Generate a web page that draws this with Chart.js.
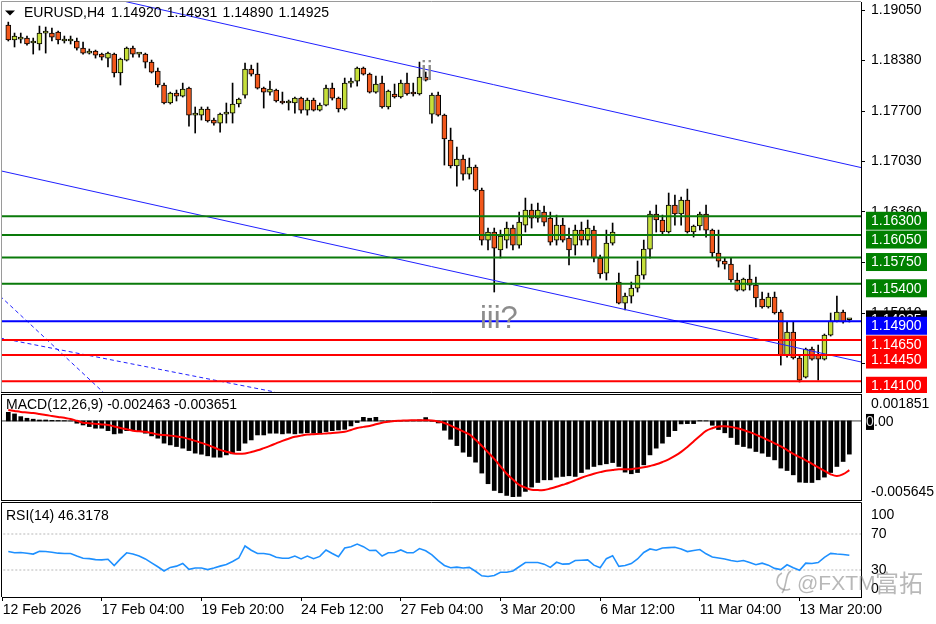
<!DOCTYPE html>
<html>
<head>
<meta charset="utf-8">
<title>EURUSD H4</title>
<script src="https://cdn.jsdelivr.net/npm/chart.js@4.4.1/dist/chart.umd.min.js"></script>
<style>
  html, body { margin:0; padding:0; background:#ffffff; }
  body { width:936px; height:624px; position:relative; overflow:hidden; }
  canvas { position:absolute; left:0; }
</style>
</head>
<body>
<canvas id="mainChart" width="936" height="393" style="top:0px"></canvas>
<canvas id="macdChart" width="936" height="109" style="top:393px"></canvas>
<canvas id="rsiChart" width="936" height="123" style="top:501px"></canvas>
<script>
// ---------------- DATA ----------------
const symbolText = 'EURUSD,H4';
const headerValues = ['1.14920', '1.14931', '1.14890', '1.14925'];

const opens = [
1.18849,1.18650,1.18663,1.18676,1.18610,1.18597,1.18743,1.18743,1.18756,1.18637,
1.18637,1.18637,1.18543,1.18476,1.18503,1.18463,1.18409,1.18463,1.18210,1.18383,
1.18543,1.18463,1.18463,1.18356,1.18237,1.18050,1.17810,1.17943,1.17903,1.18009,
1.17649,1.17649,1.17730,1.17583,1.17543,1.17663,1.17676,1.17797,1.17916,1.18263,
1.18196,1.18009,1.17956,1.17983,1.17837,1.17810,1.17810,1.17876,1.17716,1.17850,
1.17716,1.17783,1.18009,1.17876,1.17730,1.18076,1.18103,1.18277,1.18196,1.17956,
1.18076,1.17757,1.17930,1.17890,1.18076,1.17956,1.17930,1.18157,1.17663,1.17916,
1.17649,1.17316,1.16970,1.17063,1.16863,1.16956,1.16650,1.15983,1.16090,1.15850,
1.15983,1.16143,1.15916,1.16183,1.16383,1.16276,1.16356,1.16276,1.15983,1.16183,
1.16010,1.15916,1.16116,1.15983,1.16116,1.15743,1.15543,1.15943,1.15423,1.15143,
1.15236,1.15343,1.15516,1.15863,1.16330,1.16250,1.16090,1.16450,1.16330,1.16516,
1.16090,1.16170,1.16330,1.16116,1.15810,1.15703,1.15663,1.15450,1.15316,1.15463,
1.15383,1.15196,1.15090,1.15223,1.15023,1.14450,1.14756,1.14410,1.14156,1.14530,
1.14450,1.14396,1.14716,1.14903,1.15023,1.14920];
const highs = [
1.18889,1.18743,1.18743,1.18703,1.18676,1.18836,1.18823,1.18809,1.18770,1.18703,
1.18703,1.18676,1.18623,1.18530,1.18516,1.18476,1.18489,1.18476,1.18409,1.18557,
1.18570,1.18476,1.18476,1.18383,1.18277,1.18076,1.17956,1.17983,1.18076,1.18023,
1.17757,1.17757,1.17757,1.17610,1.17676,1.17810,1.18076,1.17876,1.18343,1.18316,
1.18343,1.18023,1.18103,1.17996,1.17956,1.17850,1.17890,1.17890,1.17876,1.17876,
1.17810,1.18050,1.18076,1.17890,1.18143,1.18143,1.18290,1.18290,1.18210,1.18170,
1.18170,1.17983,1.18063,1.18116,1.18210,1.18076,1.18356,1.18223,1.17943,1.17956,
1.17663,1.17476,1.17223,1.17116,1.17076,1.16983,1.16676,1.16143,1.16143,1.16116,
1.16223,1.16183,1.16356,1.16543,1.16463,1.16476,1.16436,1.16356,1.16316,1.16276,
1.16143,1.16183,1.16223,1.16250,1.16170,1.15783,1.16116,1.16210,1.15543,1.15276,
1.15423,1.15703,1.15983,1.16370,1.16450,1.16316,1.16610,1.16583,1.16556,1.16663,
1.16183,1.16356,1.16450,1.16130,1.16116,1.15743,1.15743,1.15543,1.15476,1.15650,
1.15490,1.15290,1.15276,1.15290,1.15050,1.14890,1.14890,1.14436,1.14543,1.14556,
1.14583,1.14730,1.15010,1.15236,1.15050,1.14931];
const lows = [
1.18637,1.18557,1.18610,1.18583,1.18463,1.18516,1.18476,1.18637,1.18597,1.18610,
1.18597,1.18516,1.18463,1.18463,1.18409,1.18383,1.18290,1.18157,1.18050,1.18370,
1.18423,1.18423,1.18277,1.18210,1.18023,1.17797,1.17797,1.17837,1.17890,1.17503,
1.17410,1.17583,1.17556,1.17516,1.17423,1.17543,1.17543,1.17757,1.17876,1.18170,
1.17996,1.17743,1.17916,1.17823,1.17797,1.17716,1.17676,1.17676,1.17649,1.17703,
1.17703,1.17770,1.17850,1.17690,1.17716,1.18023,1.18036,1.18183,1.17943,1.17943,
1.17743,1.17730,1.17876,1.17876,1.17916,1.17903,1.17916,1.18103,1.17543,1.17636,
1.16983,1.16943,1.16703,1.16783,1.16796,1.16636,1.15916,1.15850,1.15290,1.15743,
1.15876,1.15850,1.15876,1.16090,1.16143,1.16223,1.16170,1.15916,1.15916,1.15956,
1.15650,1.15783,1.15916,1.15916,1.15690,1.15476,1.15450,1.15916,1.15130,1.15050,
1.15143,1.15290,1.15463,1.15743,1.16090,1.16050,1.16076,1.16183,1.16183,1.16076,
1.16023,1.16116,1.16023,1.15756,1.15623,1.15596,1.15423,1.15303,1.15303,1.15316,
1.15090,1.15076,1.15076,1.14996,1.14316,1.14423,1.14396,1.14090,1.14143,1.14383,
1.14116,1.14383,1.14703,1.14890,1.14876,1.14890];
const closes = [
1.18650,1.18703,1.18663,1.18597,1.18610,1.18743,1.18743,1.18689,1.18650,1.18637,
1.18637,1.18543,1.18476,1.18503,1.18449,1.18423,1.18476,1.18210,1.18396,1.18543,
1.18463,1.18463,1.18356,1.18223,1.18050,1.17810,1.17943,1.17903,1.17996,1.17649,
1.17649,1.17730,1.17570,1.17543,1.17663,1.17690,1.17797,1.17863,1.18263,1.18196,
1.18009,1.17956,1.17996,1.17837,1.17810,1.17810,1.17876,1.17716,1.17850,1.17716,
1.17783,1.18009,1.17876,1.17730,1.18076,1.18103,1.18277,1.18196,1.17956,1.18063,
1.17757,1.17970,1.17890,1.18076,1.17930,1.17930,1.18157,1.18116,1.17916,1.17649,
1.17330,1.16970,1.17063,1.16863,1.16956,1.16650,1.15983,1.16090,1.15876,1.16036,
1.16143,1.15916,1.16223,1.16383,1.16276,1.16383,1.16223,1.15956,1.16183,1.15983,
1.15850,1.16116,1.15983,1.16143,1.15743,1.15530,1.15943,1.16090,1.15143,1.15236,
1.15343,1.15516,1.15863,1.16330,1.16250,1.16090,1.16450,1.16330,1.16516,1.16090,
1.16170,1.16330,1.16116,1.15810,1.15703,1.15663,1.15450,1.15316,1.15463,1.15383,
1.15210,1.15090,1.15223,1.15010,1.14450,1.14756,1.14410,1.14116,1.14530,1.14396,
1.14396,1.14716,1.14903,1.15023,1.14890,1.14925];

const priceTicks = [1.19050, 1.18380, 1.17700, 1.17030, 1.16360, 1.15690, 1.15010, 1.14340];
const greenLevels = [1.16300, 1.16050, 1.15750, 1.15400];
const blueLevels = [1.14900];
const redLevels = [1.14650, 1.14450, 1.14100];
const bidPrice = 1.14925;

const channelUpper = [[18.9, 1.19161], [136.9, 1.16949]];
const channelLower = [[-1.06, 1.16903], [136.9, 1.14357]];
const dashedLineA = [[-1.33, 1.15237], [15.2, 1.13957]];
const dashedLineB = [[-1.33, 1.14677], [42.8, 1.13957]];
const waveLabelText = ['ii', 'iii?'];
const waveLabelIndex = [66.2, 75.7];
const waveLabelPrice = [1.18116, 1.14810];

const macdLabel = 'MACD(12,26,9) -0.002463 -0.003651';
const macdHist = [
0.00064,0.00052,0.00032,0.0002,0.00013,0.00007,0.00007,0.00004,0.00003,0.00002,
0,-0.00017,-0.0003,-0.00042,-0.00054,-0.00054,-0.00072,-0.00096,-0.00091,-0.00072,
-0.00072,-0.00079,-0.00091,-0.00111,-0.00128,-0.00165,-0.00178,-0.0019,-0.00202,-0.0022,
-0.00239,-0.00247,-0.00259,-0.00269,-0.00269,-0.00252,-0.00244,-0.0022,-0.00165,-0.00141,
-0.00104,-0.00104,-0.00091,-0.00091,-0.00096,-0.00091,-0.00096,-0.00091,-0.00087,-0.00091,
-0.00087,-0.00079,-0.00072,-0.00067,-0.00062,-0.00037,-0.00012,0.00027,0.0002,0.00027,
0,-0.00002,-0.00002,0.00001,0.00002,0.00005,0.00008,0.00025,-0.00002,-0.00015,
-0.00069,-0.00136,-0.00183,-0.00232,-0.00264,-0.00306,-0.00387,-0.00466,-0.00516,-0.00533,
-0.00553,-0.00565,-0.0056,-0.00523,-0.00491,-0.00457,-0.00437,-0.00437,-0.00417,-0.00412,
-0.00407,-0.00412,-0.00383,-0.00358,-0.00338,-0.00326,-0.00318,-0.00309,-0.00338,-0.0038,
-0.00392,-0.00383,-0.00326,-0.00252,-0.00202,-0.00165,-0.00116,-0.00072,-0.00022,-0.0002,
-0.0002,0.00002,0.00001,-0.00032,-0.00064,-0.00088,-0.00123,-0.00175,-0.0019,-0.00202,
-0.00227,-0.00239,-0.00264,-0.00289,-0.0035,-0.00368,-0.004,-0.00454,-0.00457,-0.00457,
-0.00437,-0.00417,-0.00383,-0.00338,-0.00301,-0.002463];
const macdSignal = [
0.00081,0.00074,0.00067,0.00063,0.00059,0.00052,0.00044,0.00037,0.0003,0.00023,
0.00015,0.00001,-0.00013,-0.00017,-0.00021,-0.00026,-0.0003,-0.00041,-0.00052,-0.00062,
-0.00072,-0.00077,-0.00081,-0.0009,-0.001,-0.00105,-0.00109,-0.00115,-0.00122,-0.00134,
-0.00148,-0.00163,-0.00178,-0.00197,-0.00215,-0.00228,-0.00239,-0.00244,-0.00241,-0.00231,
-0.00218,-0.00202,-0.00185,-0.00166,-0.00148,-0.00132,-0.00118,-0.00109,-0.00101,-0.00098,
-0.00096,-0.00093,-0.0009,-0.00086,-0.00081,-0.00067,-0.00052,-0.00044,-0.00037,-0.00025,
-0.00013,-0.00006,0,0.00002,0.00004,0.00005,0.00006,0.00005,0.00004,-0.00004,
-0.00015,-0.00035,-0.00056,-0.00078,-0.001,-0.0014,-0.00185,-0.00233,-0.00281,-0.00337,
-0.00392,-0.00435,-0.00474,-0.00495,-0.00511,-0.00513,-0.00513,-0.00502,-0.00489,-0.00474,
-0.00459,-0.0044,-0.00422,-0.00406,-0.00392,-0.0038,-0.0037,-0.00364,-0.00359,-0.00358,
-0.00358,-0.00352,-0.00344,-0.00334,-0.00322,-0.00305,-0.00285,-0.0026,-0.0023,-0.00193,
-0.00152,-0.00112,-0.00074,-0.00054,-0.00041,-0.0004,-0.00044,-0.00054,-0.00067,-0.00083,
-0.00101,-0.00122,-0.00144,-0.00166,-0.00189,-0.00216,-0.00244,-0.00268,-0.00292,-0.00318,
-0.00344,-0.0037,-0.00396,-0.00409,-0.00395,-0.003651];
const macdAxisValues = [0.001851, 0.0, -0.005645];
const macdAxisLabels = ['0.001851', '0.00', '-0.005645'];

const rsiLabel = 'RSI(14) 46.3178';
const rsiValues = [
50.5,49.1,49.5,48.7,47.7,50.9,50.5,49.8,48.7,48.4,
48.4,45.5,43.0,42.6,41.5,41.2,41.9,35.0,42.3,49.1,
47.7,45.5,42.3,37.9,33.6,28.9,32.9,34.3,37.2,30.7,
32.2,32.2,30.4,32.2,34.3,36.1,39.4,43.3,56.7,52.0,
48.4,48.4,47.3,44.1,43.0,43.0,45.5,42.3,45.5,42.6,
45.1,52.3,48.4,44.8,54.5,55.9,58.8,55.9,51.6,52.0,
45.5,49.1,49.5,52.3,49.1,49.1,53.8,51.3,46.9,40.5,
35.0,32.5,33.2,32.2,32.9,28.6,23.5,22.8,23.9,27.5,
27.5,28.9,33.6,38.3,38.3,38.3,36.5,32.9,38.6,36.5,
36.8,40.5,40.8,41.2,35.4,32.5,42.6,45.9,34.0,35.0,
37.2,42.3,49.5,53.4,52.0,54.5,54.9,55.2,53.4,50.5,
51.6,52.7,48.0,44.4,43.3,42.3,40.5,39.4,40.5,38.3,
35.8,37.6,35.4,31.8,30.4,35.8,32.5,29.6,37.6,37.2,
38.3,44.1,48.4,47.7,47.3,46.3178];
const rsiLevels = [70, 30];
const rsiAxisValues = [100, 70, 30, 0];

const timeTickIndex = [-0.9, 15, 31, 47, 63, 79, 95, 111, 127];
const timeTickLabels = ['12 Feb 2026', '17 Feb 04:00', '19 Feb 20:00', '24 Feb 12:00', '27 Feb 04:00',
                        '3 Mar 20:00', '6 Mar 12:00', '11 Mar 04:00', '13 Mar 20:00'];
const watermarkLatin = '@FXTM';
const watermarkCJK = '富拓';

// ---------------- STYLE / SETUP ----------------
const FONT = '"Liberation Sans", Arial, sans-serif';
Chart.defaults.font.family = FONT;
Chart.defaults.font.size = 14;
Chart.defaults.color = '#000';
const X_MIN = -1.011, X_MAX = 136.87;
const idx = closes.map((_, i) => i);
const BULL = '#c6df3a', BEAR = '#f2581c';

function xHidden() {
  return { type: 'linear', min: X_MIN, max: X_MAX, display: false, offset: false };
}
function segment(pts) { return pts.map(p => ({ x: p[0], y: p[1] })); }
function hline(v, color, w, order, dash) {
  return { type: 'line', data: [{ x: X_MIN - 3, y: v }, { x: X_MAX + 3, y: v }],
           borderColor: color, borderWidth: w, pointRadius: 0, order: order,
           borderDash: dash || [] };
}
const baseOptions = {
  responsive: false, animation: false, devicePixelRatio: 1, events: [],
  plugins: { legend: { display: false }, tooltip: { enabled: false } }
};

// ---------- main panel decorations ----------
const mainDecor = {
  id: 'mainDecor',
  afterDraw(chart) {
    const { ctx, chartArea: a, scales: { x, y } } = chart;
    ctx.save();
    ctx.lineWidth = 1;
    ctx.strokeStyle = '#9a9a9a';
    ctx.beginPath(); ctx.moveTo(1.5, a.bottom); ctx.lineTo(1.5, 1.5); ctx.lineTo(a.right, 1.5); ctx.stroke();
    ctx.strokeStyle = '#000';
    ctx.beginPath(); ctx.moveTo(1, a.bottom + 0.5); ctx.lineTo(a.right + 1, a.bottom + 0.5); ctx.stroke();

    ctx.fillStyle = '#000';
    ctx.beginPath(); ctx.moveTo(5, 10.5); ctx.lineTo(15, 10.5); ctx.lineTo(10, 15.5); ctx.closePath(); ctx.fill();
    ctx.font = '14px ' + FONT; ctx.textBaseline = 'middle'; ctx.textAlign = 'left';
    ctx.fillText(symbolText, 24, 13.5);
    headerValues.forEach((t, k) => ctx.fillText(t, 111 + k * 55.8, 13.5));

    ctx.fillStyle = '#8c8c8c'; ctx.textBaseline = 'alphabetic';
    waveLabelText.forEach((t, k) => {
      ctx.font = (t.length > 2 ? '31px ' : '27px ') + FONT;
      ctx.fillText(t, x.getPixelForValue(waveLabelIndex[k]), y.getPixelForValue(waveLabelPrice[k]));
    });

    const box = (v, bg, off) => {
      const py = y.getPixelForValue(v);
      const top = py - off;
      ctx.fillStyle = bg; ctx.fillRect(866, top, 61, 18);
      ctx.fillStyle = '#fff'; ctx.font = '14px ' + FONT; ctx.textBaseline = 'middle';
      ctx.fillText(v.toFixed(5), 871, top + 9.5);
    };
    box(bidPrice, '#000', 9);
    greenLevels.forEach(v => box(v, '#008000', 4.5));
    blueLevels.forEach(v => box(v, '#0000ff', 4.5));
    redLevels.forEach(v => box(v, '#ff0000', 4.5));
    ctx.restore();
  }
};

new Chart(document.getElementById('mainChart'), {
  type: 'bar',
  data: {
    datasets: [
      ...greenLevels.map(v => hline(v, '#0a7a0a', 2, 1)),
      ...blueLevels.map(v => hline(v, '#0000ff', 2, 1)),
      ...redLevels.map(v => hline(v, '#ff0000', 2, 1)),
      { type: 'line', data: segment(channelUpper), borderColor: '#2020ff', borderWidth: 1, pointRadius: 0, order: 2 },
      { type: 'line', data: segment(channelLower), borderColor: '#2020ff', borderWidth: 1, pointRadius: 0, order: 2 },
      { type: 'line', data: segment(dashedLineA), borderColor: '#2020ff', borderWidth: 1, borderDash: [4, 3], pointRadius: 0, order: 2 },
      { type: 'line', data: segment(dashedLineB), borderColor: '#2020ff', borderWidth: 1, borderDash: [4, 3], pointRadius: 0, order: 2 },
      { type: 'bar', data: idx.map(i => ({ x: i, y: [opens[i], closes[i]] })),
        backgroundColor: idx.map(i => closes[i] >= opens[i] ? BULL : BEAR),
        borderColor: '#000', borderWidth: 1, borderSkipped: false, barThickness: 5,
        minBarLength: 2, grouped: false, order: 3 },
      { type: 'bar', data: idx.map(i => ({ x: i, y: [lows[i], highs[i]] })),
        backgroundColor: '#000', barThickness: 1, grouped: false, order: 4 }
    ]
  },
  options: {
    ...baseOptions,
    layout: { padding: { left: 2, top: 2, right: 0, bottom: 1 } },
    scales: {
      x: xHidden(),
      y: {
        position: 'right', min: 1.13957, max: 1.19157,
        afterBuildTicks: s => { s.ticks = priceTicks.map(v => ({ value: v })); },
        afterFit: s => { s.width = 75; s.paddingTop = 0; s.paddingBottom = 0; },
        ticks: { callback: v => Number(v).toFixed(5), padding: 6, autoSkip: false, color: '#000', font: { size: 14 } },
        grid: { display: true, drawOnChartArea: false, drawTicks: true, tickLength: 4, color: '#000' },
        border: { display: true, color: '#000' }
      }
    }
  },
  plugins: [mainDecor]
});

// ---------- MACD ----------
const macdDecor = {
  id: 'macdDecor',
  afterDraw(chart) {
    const { ctx, chartArea: a, scales: { y } } = chart;
    ctx.save();
    ctx.lineWidth = 1; ctx.strokeStyle = '#000';
    ctx.strokeRect(1.5, 1.5, a.right - 1, 106);
    ctx.fillStyle = '#000'; ctx.font = '14px ' + FONT; ctx.textBaseline = 'middle'; ctx.textAlign = 'left';
    ctx.fillText(macdLabel, 6, 12);
    macdAxisValues.forEach((v, k) => {
      let py = y.getPixelForValue(v);
      py = Math.min(Math.max(py, a.top + 8), a.bottom - 4.5);
      if (v === 0) {
        py += 1;
        ctx.fillStyle = '#000'; ctx.fillRect(866, py - 8, 8, 16);
        ctx.fillStyle = '#ddd'; ctx.fillText('0', 866, py);
        ctx.fillStyle = '#000'; ctx.fillText('.00', 874, py);
      } else {
        ctx.fillStyle = '#000'; ctx.fillText(macdAxisLabels[k], 871, py);
      }
    });
    ctx.restore();
  }
};
new Chart(document.getElementById('macdChart'), {
  type: 'bar',
  data: {
    datasets: [
      { type: 'line', data: idx.map(i => ({ x: i, y: macdSignal[i] })), borderColor: '#ff0000',
        borderWidth: 2, pointRadius: 0, tension: 0.4, order: 1 },
      hline(0, '#404040', 1, 3),
      { type: 'bar', data: idx.map(i => ({ x: i, y: macdHist[i] })), backgroundColor: '#000',
        barThickness: 4, grouped: false, order: 2 }
    ]
  },
  options: {
    ...baseOptions,
    layout: { padding: { left: 2, top: 3, right: 75, bottom: 5 } },
    scales: { x: xHidden(), y: { display: false, min: -0.005645, max: 0.001851 } }
  },
  plugins: [macdDecor]
});

// ---------- RSI ----------
const rsiDecor = {
  id: 'rsiDecor',
  afterDraw(chart) {
    const { ctx, chartArea: a, scales: { y } } = chart;
    ctx.save();
    ctx.lineWidth = 1; ctx.strokeStyle = '#000';
    ctx.beginPath(); ctx.moveTo(1.5, a.bottom); ctx.lineTo(1.5, 1.5); ctx.lineTo(a.right + 0.5, 1.5);
    ctx.lineTo(a.right + 0.5, a.bottom); ctx.stroke();
    ctx.fillStyle = '#000'; ctx.font = '14px ' + FONT; ctx.textBaseline = 'middle'; ctx.textAlign = 'left';
    ctx.fillText(rsiLabel, 6, 15);
    rsiAxisValues.forEach(v => {
      let py = y.getPixelForValue(v);
      py = Math.min(Math.max(py, a.top + 8), a.bottom - 8);
      ctx.fillText(String(v), 871, py);
    });
    // watermark (logo + text)
    const wm = 'rgba(125,125,125,0.55)';
    ctx.strokeStyle = wm; ctx.lineWidth = 1.6;
    ctx.beginPath(); ctx.arc(786, 80, 9, Math.PI * 0.35, Math.PI * 1.35); ctx.stroke();
    ctx.beginPath(); ctx.moveTo(791, 70); ctx.bezierCurveTo(785, 72, 787, 86, 782, 92); ctx.stroke();
    ctx.fillStyle = wm; ctx.textBaseline = 'alphabetic';
    ctx.font = '21px ' + FONT;
    ctx.fillText(watermarkLatin, 797, 89);
    ctx.font = '24px "Noto Sans CJK SC", sans-serif';
    ctx.fillText(watermarkCJK, 875, 91);
    ctx.restore();
  }
};
new Chart(document.getElementById('rsiChart'), {
  type: 'line',
  data: {
    datasets: [
      ...rsiLevels.map(v => hline(v, '#b8b8b8', 1, 2, [2, 2])),
      { data: idx.map(i => ({ x: i, y: rsiValues[i] })), borderColor: '#1e90ff', borderWidth: 1.6,
        pointRadius: 0, tension: 0, order: 1 }
    ]
  },
  options: {
    ...baseOptions,
    layout: { padding: { left: 2, top: 6, right: 75, bottom: 0 } },
    scales: {
      x: {
        type: 'linear', min: X_MIN, max: X_MAX, position: 'bottom', offset: false,
        afterBuildTicks: s => { s.ticks = timeTickIndex.map(v => ({ value: v })); },
        afterFit: s => { s.height = 27; s.paddingLeft = 0; s.paddingRight = 0; },
        ticks: { callback: (v, k) => timeTickLabels[k], align: 'start', maxRotation: 0, minRotation: 0,
                 autoSkip: false, padding: 1, color: '#000', font: { size: 14 } },
        grid: { display: true, drawOnChartArea: false, drawTicks: true, tickLength: 4, color: '#000' },
        border: { display: true, color: '#000' }
      },
      y: { display: false, min: 0, max: 100 }
    }
  },
  plugins: [rsiDecor]
});
</script>
</body>
</html>
